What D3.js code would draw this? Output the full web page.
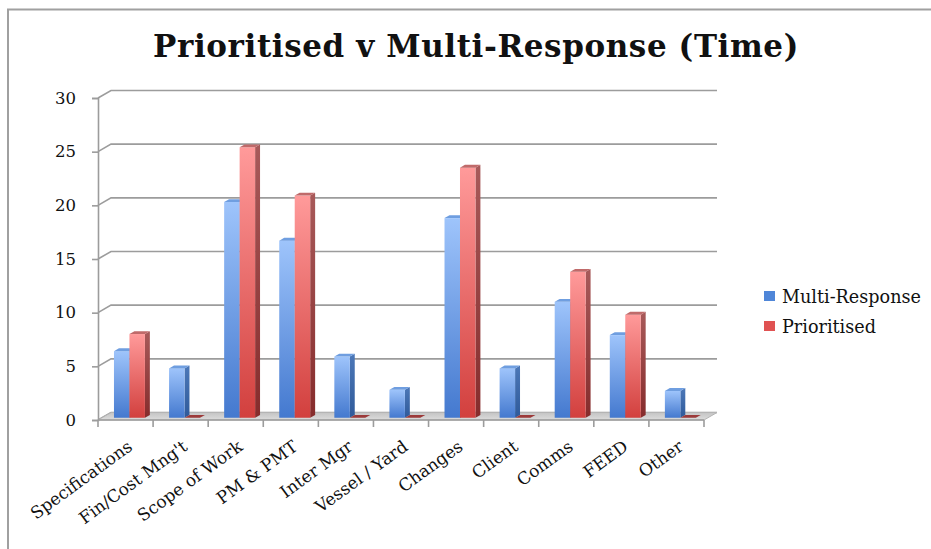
<!DOCTYPE html>
<html>
<head>
<meta charset="utf-8">
<script src="https://cdn.jsdelivr.net/npm/d3@7"></script>
<style>
  html, body { margin: 0; padding: 0; background: #fff; }
  svg { display: block; }
  text { font-family: "DejaVu Serif", serif; fill: #111; }
</style>
</head>
<body>
<svg id="chart" width="931" height="549"></svg>
<script>
// Share of time issues by category, in percent
const categories = ["Specifications", "Fin/Cost Mng't", "Scope of Work", "PM & PMT", "Inter Mgr",
  "Vessel / Yard", "Changes", "Client", "Comms", "FEED", "Other"];
const seriesNames = ["Multi-Response", "Prioritised"];
const multiResponse = [6.2, 4.6, 20.1, 16.5, 5.7, 2.6, 18.6, 4.6, 10.8, 7.7, 2.5];
const prioritised = [7.8, 0, 25.2, 20.7, 0, 0, 23.3, 0, 13.6, 9.6, 0];
const yTicks = [0, 5, 10, 15, 20, 25, 30];

const svg = d3.select("#chart");
const W = 931, H = 549;

// Oblique 3D projection: depth z in [0,1] shifts right and up
const DX = 13, DY = -7.5;
const proj = (px, py, z) => [px + DX * z, py + DY * z];

const x = d3.scaleBand().domain(categories).range([98, 704]).paddingInner(0).paddingOuter(0);
const xs = d3.scaleBand().domain(seriesNames).range([0, x.bandwidth()]).paddingInner(0).paddingOuter(0.78);
const y = d3.scaleLinear().domain([0, 30]).range([420, 98]);

const defs = svg.append("defs");
function vGrad(id, top, bottom) {
  const g = defs.append("linearGradient").attr("id", id).attr("x1", 0).attr("y1", 0).attr("x2", 0).attr("y2", 1);
  g.append("stop").attr("offset", "0%").attr("stop-color", top);
  g.append("stop").attr("offset", "100%").attr("stop-color", bottom);
}
vGrad("blueFront", "#9ec4fb", "#4479cf");
vGrad("blueSide", "#4c78b8", "#2f5a9a");
vGrad("redFront", "#ff9a9a", "#d2403e");
vGrad("redSide", "#a85a5a", "#862c2c");
vGrad("floorFill", "#c4c4c4", "#dcdcdc");

const palette = {
  "Multi-Response": { front: "url(#blueFront)", side: "url(#blueSide)", top: "#6f9ee0", legend: "#4f86d8" },
  "Prioritised": { front: "url(#redFront)", side: "url(#redSide)", top: "#c06a6a", legend: "#e05252" }
};

// Outer frame (left and top edges)
svg.append("path")
  .attr("d", `M8,${H} L8,9.5 L${W},9.5`)
  .attr("fill", "none").attr("stroke", "#a0a0a0").attr("stroke-width", 2);

// Title
svg.append("text")
  .attr("x", 476).attr("y", 57)
  .attr("text-anchor", "middle")
  .style("font-size", "31px").style("font-weight", "bold")
  .style("letter-spacing", "0.6px")
  .text("Prioritised v Multi-Response (Time)");

const gridColor = "#9c9c9c";
const x0 = x.range()[0], x1 = x.range()[1];

// Back-wall gridlines with their diagonal on the side wall
const grid = svg.append("g");
yTicks.forEach(t => {
  const a = [x0, y(t)];
  const b = proj(x0, y(t), 1);
  const c = proj(x1, y(t), 1);
  grid.append("path")
    .attr("d", `M${a[0]},${a[1]} L${b[0]},${b[1]} L${c[0]},${c[1]}`)
    .attr("fill", "none").attr("stroke", gridColor).attr("stroke-width", 1.6);
});

// Floor
const fl = [proj(x0, y(0), 0), proj(x0, y(0), 1), proj(x1, y(0), 1), proj(x1, y(0), 0)];
svg.append("path")
  .attr("d", "M" + fl.map(p => p.join(",")).join("L") + "Z")
  .attr("fill", "url(#floorFill)").attr("stroke", "#b4b4b4").attr("stroke-width", 1);

// Y axis
const yAxis = d3.axisLeft(y).tickValues(yTicks).tickSize(6).tickPadding(16);
const yg = svg.append("g").attr("transform", `translate(${x0},0)`).call(yAxis);
yg.select(".domain").attr("stroke", gridColor).attr("stroke-width", 1.6);
yg.selectAll(".tick line").attr("stroke", gridColor).attr("stroke-width", 1.6);
yg.selectAll(".tick text").style("font-size", "16.5px").style("font-family", "DejaVu Serif, serif").attr("fill", "#111");

// X axis front edge and category boundary ticks
const xg = svg.append("g");
xg.append("line").attr("x1", x0).attr("x2", x1).attr("y1", y(0)).attr("y2", y(0))
  .attr("stroke", gridColor).attr("stroke-width", 1.6);
const bounds = categories.map(c => x(c)).concat([x1]);
xg.selectAll("line.tick").data(bounds).join("line")
  .attr("class", "tick")
  .attr("x1", d => d).attr("x2", d => d)
  .attr("y1", y(0)).attr("y2", y(0) + 7)
  .attr("stroke", gridColor).attr("stroke-width", 1.6);

// Category labels, rotated
xg.selectAll("text.cat").data(categories).join("text")
  .attr("class", "cat")
  .attr("text-anchor", "end")
  .attr("transform", d => `translate(${x(d) + x.bandwidth() / 2 + 8},${y(0) + 29}) rotate(-36)`)
  .style("font-size", "17px")
  .text(d => d);

// Bars: front face, right side and top as 3D boxes
const Z0 = 0.3, Z1 = 0.68;
const rows = [];
categories.forEach((c, i) => {
  rows.push({ cat: c, series: "Multi-Response", value: multiResponse[i] });
  rows.push({ cat: c, series: "Prioritised", value: prioritised[i] });
});

const poly = pts => "M" + pts.map(p => p.join(",")).join("L") + "Z";
const bars = svg.append("g");
rows.forEach(r => {
  const bx0 = x(r.cat) + xs(r.series);
  const bx1 = bx0 + xs.bandwidth();
  const yb = y(0), yt = y(r.value);
  const col = palette[r.series];
  const g = bars.append("g");
  if (r.value > 0) {
    // right side
    g.append("path")
      .attr("d", poly([proj(bx1, yt, Z0), proj(bx1, yt, Z1), proj(bx1, yb, Z1), proj(bx1, yb, Z0)]))
      .attr("fill", col.side);
    // front
    const f0 = proj(bx0, yt, Z0);
    g.append("rect")
      .attr("x", f0[0]).attr("y", f0[1])
      .attr("width", bx1 - bx0).attr("height", yb - yt)
      .attr("fill", col.front);
  }
  // top
  g.append("path")
    .attr("d", poly([proj(bx0, yt, Z0), proj(bx0, yt, Z1), proj(bx1, yt, Z1), proj(bx1, yt, Z0)]))
    .attr("fill", r.value > 0 ? col.top : "#9c3a3a");
});

// Legend
const legend = svg.append("g");
seriesNames.forEach((s, i) => {
  const base = 303 + i * 30;
  legend.append("rect")
    .attr("x", 764).attr("y", base - 12).attr("width", 11).attr("height", 10)
    .attr("fill", palette[s].legend);
  legend.append("text")
    .attr("x", 782).attr("y", base)
    .style("font-size", "17.6px")
    .text(s);
});
</script>
</body>
</html>
